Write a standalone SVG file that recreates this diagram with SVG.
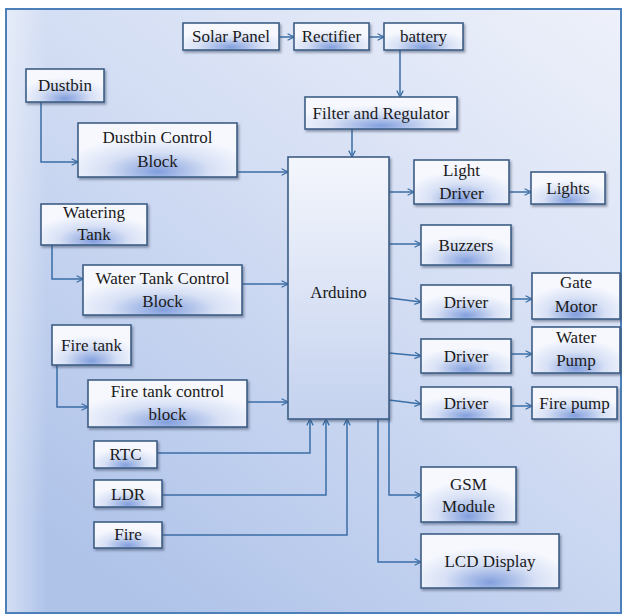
<svg xmlns="http://www.w3.org/2000/svg" width="622" height="615" viewBox="0 0 622 615">
<style>
.box{fill:url(#boxg);stroke:#3e5e86;stroke-width:1.6;filter:url(#sh)}
.ard{fill:url(#ardg);stroke:#3e5e86;stroke-width:1.6;filter:url(#sh)}
.t{font-family:'Liberation Serif','DejaVu Serif',serif;font-size:17px;fill:#1a1a1a;text-anchor:middle}
.c path{fill:none;stroke:#3b6ea6;stroke-width:1.5;marker-end:url(#ar)}
</style>
<defs>
<linearGradient id="bg" x1="1" y1="0" x2="0.25" y2="1">
<stop offset="0" stop-color="#eef1fa"/>
<stop offset="0.5" stop-color="#d1dcf3"/>
<stop offset="1" stop-color="#afc3e9"/>
</linearGradient>
<linearGradient id="lstrip" x1="0" y1="0" x2="1" y2="0">
<stop offset="0" stop-color="#ffffff" stop-opacity="0.45"/>
<stop offset="1" stop-color="#ffffff" stop-opacity="0"/>
</linearGradient>
<radialGradient id="boxg" cx="0.5" cy="0.85" r="0.6" fx="0.5" fy="0.9">
<stop offset="0" stop-color="#829fdd"/>
<stop offset="0.55" stop-color="#d7e0f5"/>
<stop offset="1" stop-color="#f6f8fe"/>
</radialGradient>
<linearGradient id="ardg" x1="0" y1="0" x2="0" y2="1">
<stop offset="0" stop-color="#f4f6fc"/>
<stop offset="1" stop-color="#c4d2ef"/>
</linearGradient>
<filter id="sh" x="-10%" y="-10%" width="130%" height="140%">
<feDropShadow dx="1.5" dy="2" stdDeviation="1.2" flood-color="#3a4a66" flood-opacity="0.5"/>
</filter>
<marker id="ar" viewBox="0 0 10 10" refX="9" refY="5" markerWidth="8" markerHeight="8" markerUnits="userSpaceOnUse" orient="auto">
<path d="M1,1 L9,5 L1,9" fill="none" stroke="#3b6ea6" stroke-width="1.6"/>
</marker>
</defs>
<rect x="0" y="0" width="622" height="615" fill="#ffffff"/>
<rect x="6" y="9" width="615" height="604" fill="url(#bg)" stroke="#4d7fb8" stroke-width="2"/>
<rect x="7" y="10" width="40" height="602" fill="url(#lstrip)"/>

<g class="c" id="connectors">
<path d="M279,37 H294"/>
<path d="M369,37 H384"/>
<path d="M400,50 V97"/>
<path d="M352,129 V157"/>
<path d="M41,102 V162 H78"/>
<path d="M237,172 H288"/>
<path d="M52,245 V279 H83"/>
<path d="M242,284 H288"/>
<path d="M57,365 V407 H88"/>
<path d="M247,402 H288"/>
<path d="M157,453 H310 V419"/>
<path d="M162,495 H326 V419"/>
<path d="M162,535 H347 V419"/>
<path d="M389,419 V495 H421"/>
<path d="M378,419 V562 H421"/>
<path d="M389,192 H414"/>
<path d="M509,192 H531"/>
<path d="M389,244 H421"/>
<path d="M389,298 L421,302"/>
<path d="M511,299 H532"/>
<path d="M389,353 L421,356"/>
<path d="M511,354 H532"/>
<path d="M389,400 L421,404"/>
<path d="M511,406 H532"/>
</g>

<g class="t" font-family="Liberation Serif, DejaVu Serif, serif">
<g id="solar"><rect class="box" x="183" y="23" width="96" height="27"/><text x="231" y="42">Solar Panel</text></g>
<g id="rectifier"><rect class="box" x="294" y="23" width="75" height="27"/><text x="331.5" y="42">Rectifier</text></g>
<g id="battery"><rect class="box" x="384" y="23" width="79" height="27"/><text x="423.5" y="42">battery</text></g>
<g id="filter"><rect class="box" x="305" y="97" width="152" height="32"/><text x="381" y="119">Filter and Regulator</text></g>
<g id="dustbin"><rect class="box" x="26" y="69" width="78" height="33"/><text x="65" y="91">Dustbin</text></g>
<g id="dustbin-control"><rect class="box" x="78" y="123" width="159" height="54"/><text x="157.5" y="143">Dustbin Control</text><text x="157.5" y="167">Block</text></g>
<g id="watering-tank"><rect class="box" x="41" y="204" width="106" height="41"/><text x="94" y="218">Watering</text><text x="94" y="240">Tank</text></g>
<g id="water-control"><rect class="box" x="83" y="265" width="159" height="50"/><text x="162.5" y="284">Water Tank Control</text><text x="162.5" y="307">Block</text></g>
<g id="fire-tank"><rect class="box" x="52" y="325" width="79" height="40"/><text x="91.5" y="351">Fire tank</text></g>
<g id="fire-control"><rect class="box" x="88" y="380" width="159" height="47"/><text x="167.5" y="397">Fire tank control</text><text x="167.5" y="420">block</text></g>
<g id="rtc"><rect class="box" x="94" y="441" width="63" height="27"/><text x="125.5" y="460">RTC</text></g>
<g id="ldr"><rect class="box" x="94" y="480" width="68" height="27"/><text x="128" y="500">LDR</text></g>
<g id="fire"><rect class="box" x="94" y="522" width="68" height="26"/><text x="128" y="540">Fire</text></g>
<g id="arduino"><rect class="ard" x="288" y="157" width="101" height="262"/><text x="338.5" y="298">Arduino</text></g>
<g id="light-driver"><rect class="box" x="414" y="160" width="95" height="44"/><text x="461.5" y="176">Light</text><text x="461.5" y="199">Driver</text></g>
<g id="lights"><rect class="box" x="531" y="172" width="74" height="32"/><text x="568" y="194">Lights</text></g>
<g id="buzzers"><rect class="box" x="421" y="225" width="90" height="40"/><text x="466" y="251">Buzzers</text></g>
<g id="driver1"><rect class="box" x="421" y="285" width="90" height="34"/><text x="466" y="308">Driver</text></g>
<g id="gate-motor"><rect class="box" x="532" y="273" width="88" height="46"/><text x="576" y="288">Gate</text><text x="576" y="312">Motor</text></g>
<g id="driver2"><rect class="box" x="421" y="339" width="90" height="34"/><text x="466" y="362">Driver</text></g>
<g id="water-pump"><rect class="box" x="532" y="327" width="88" height="46"/><text x="576" y="343">Water</text><text x="576" y="366">Pump</text></g>
<g id="driver3"><rect class="box" x="421" y="387" width="90" height="32"/><text x="466" y="409">Driver</text></g>
<g id="fire-pump"><rect class="box" x="532" y="387" width="85" height="32"/><text x="574.5" y="409">Fire pump</text></g>
<g id="gsm"><rect class="box" x="421" y="467" width="95" height="55"/><text x="468.5" y="490">GSM</text><text x="468.5" y="512">Module</text></g>
<g id="lcd"><rect class="box" x="421" y="534" width="138" height="54"/><text x="490" y="567">LCD Display</text></g>
</g>
</svg>
